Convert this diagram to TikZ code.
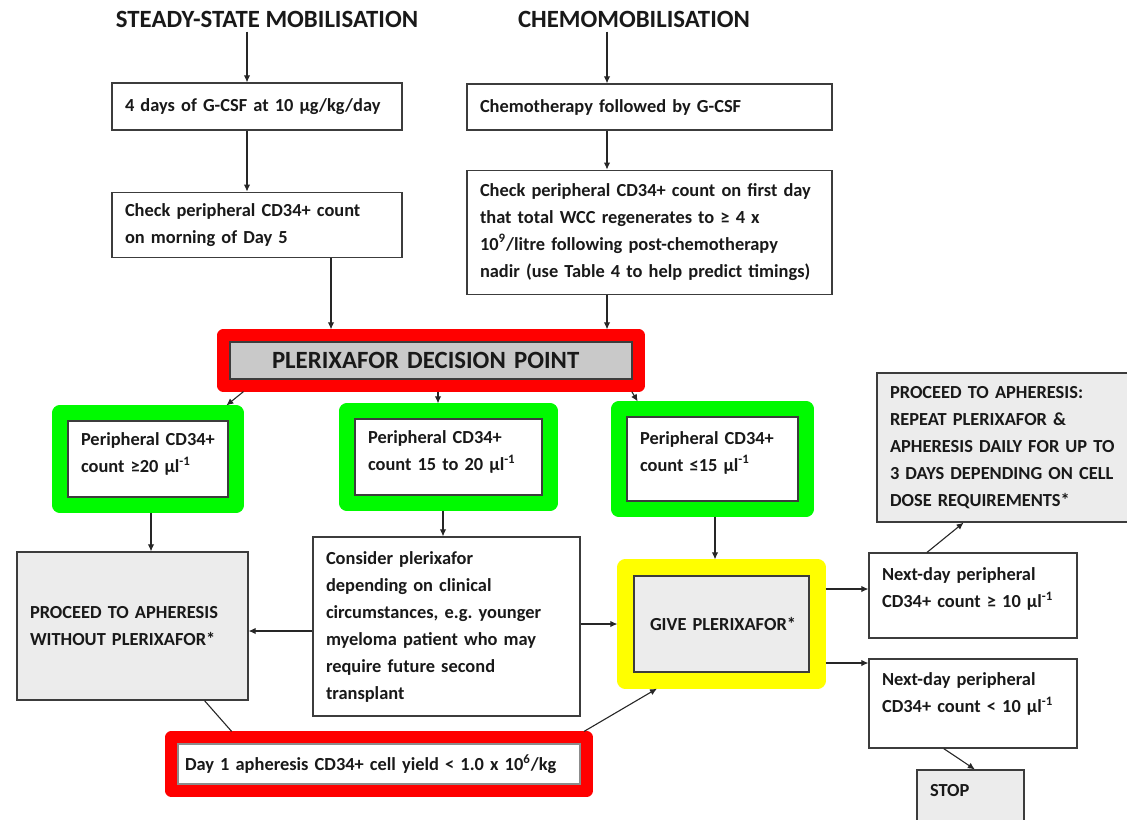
\documentclass[tikz,border=0pt]{standalone}
\usepackage{fontspec}
\setmainfont{Carlito}
\definecolor{boxline}{RGB}{60,60,60}
\definecolor{hlred}{RGB}{255,0,0}
\definecolor{hlgreen}{RGB}{0,250,0}
\definecolor{hlyellow}{RGB}{255,255,0}
\definecolor{boxgrey}{RGB}{236,236,236}
\definecolor{dpgrey}{RGB}{201,201,201}
\usetikzlibrary{arrows.meta,positioning,calc,fit}
\newcommand{\bodyfont}{\fontsize{9.2}{13.5}\selectfont\bfseries}
\newcommand{\headfont}{\fontsize{12.4}{14}\selectfont\bfseries}
\tikzset{
  stepbox/.style={rectangle,draw=boxline,line width=0.6pt,fill=#1,
    align=left,inner xsep=6.5pt,inner ysep=0pt,font=\bodyfont,text=black!90},
  stepbox/.default=white,
  redframe/.style={rectangle,draw=hlred,line width=6pt,line join=round,inner sep=3pt},
  greenframe/.style={rectangle,draw=hlgreen,line width=7.5pt,line join=round,inner sep=3.75pt},
  yellowframe/.style={rectangle,draw=hlyellow,line width=8pt,line join=round,inner sep=4pt},
  arr/.style={-{Latex[length=3.5pt,width=3.2pt]},line width=0.55pt,draw=black!85},
}

\begin{document}
\begin{tikzpicture}[x=0.5pt,y=-0.5pt,
  head/.style={font=\headfont,text=black!90,inner sep=2pt},
  conn/.style={line width=0.55pt,draw=black!85},
]
  \useasboundingbox (0,0) rectangle (1127,819);

  % titles
  \node[head] (t1) at (267,19) {STEADY-STATE MOBILISATION};
  \node[head] (t2) at (634,19) {CHEMOMOBILISATION};

  % left column
  \node[stepbox,text width=132pt,minimum height=23.5pt] (b1) at (257,106.5)
    {4 days of G-CSF at 10 µg/kg/day};
  \node[stepbox,text width=132pt,minimum height=32.5pt,below=30.5pt of b1] (b2)
    {Check peripheral CD34+ count\\on morning of Day 5};

  % right column
  \node[stepbox,text width=169.5pt,minimum height=23pt] (b3) at (649.5,107)
    {Chemotherapy followed by G-CSF};
  \node[stepbox,text width=169.5pt,minimum height=62pt,below=19.5pt of b3] (b4)
    {Check peripheral CD34+ count on first day\\
     that total WCC regenerates to ≥ 4 x\\
     10\textsuperscript{9}/litre following post-chemotherapy\\
     nadir (use Table 4 to help predict timings)};

  % decision point
  \node[stepbox=dpgrey,font=\headfont,inner xsep=21pt,text width=159pt,
    minimum height=18.5pt] (dp) at (431,360.5) {PLERIXAFOR DECISION POINT};

  % counts
  \node[stepbox,text width=67pt,minimum height=38pt] (g1) at (148,459)
    {Peripheral CD34+\\count ≥20 µl\textsuperscript{-1}\\[-7.5pt]\mbox{}};
  \node[stepbox,text width=80.5pt,minimum height=38pt] (g2) at (448.5,457)
    {Peripheral CD34+\\count 15 to 20 µl\textsuperscript{-1}\\[-7.5pt]\mbox{}};
  \node[stepbox,text width=72.5pt,minimum height=42pt] (g3) at (712.5,459)
    {Peripheral CD34+\\count ≤15 µl\textsuperscript{-1}\\[-6pt]\mbox{}};

  % outcomes
  \node[stepbox=boxgrey,text width=102.5pt,minimum height=74pt] (prc) at (132.5,626)
    {PROCEED TO APHERESIS\\WITHOUT PLERIXAFOR*};
  \node[stepbox,text width=120.5pt,minimum height=89.5pt] (cons) at (446.5,626.5)
    {Consider plerixafor\\depending on clinical\\circumstances, e.g.\ younger\\
     myeloma patient who may\\require future second\\transplant};
  \node[stepbox=boxgrey,text width=74.5pt,minimum height=48pt] (give)
    at (721.5,624) {\mbox{\hspace*{1.5pt}GIVE PLERIXAFOR*}};
  \node[stepbox,text width=91pt,minimum height=42.5pt] (nd1) at (973,595.5)
    {Next-day peripheral\\CD34+ count ≥ 10 µl\textsuperscript{-1}\\[-6pt]\mbox{}};
  \node[stepbox,text width=91pt,minimum height=44.5pt] (nd2) at (973,703.5)
    {Next-day peripheral\\CD34+ count < 10 µl\textsuperscript{-1}\\[-3pt]\mbox{}};
  \node[stepbox=boxgrey,text width=118.5pt,minimum height=74.5pt] (rp) at (1008.5,447.5)
    {PROCEED TO APHERESIS:\\REPEAT PLERIXAFOR \&\\APHERESIS DAILY FOR UP TO\\
     3 DAYS DEPENDING ON CELL\\DOSE REQUIREMENTS*};
  \node[stepbox=boxgrey,text width=40.5pt,minimum height=30pt] (stop) at (970.5,800)
    {STOP\\[-4pt]\mbox{}};
  \node[stepbox,draw=black!45,inner xsep=3.5pt,text width=194pt,minimum height=20pt]
    (day1) at (379,764)
    {Day 1 apheresis CD34+ cell yield < 1.0 x 10\textsuperscript{6}/kg};

  % highlight frames
  \node[redframe,fit=(dp)] (dpf) {};
  \node[greenframe,fit=(g1)] (g1f) {};
  \node[greenframe,fit=(g2)] (g2f) {};
  \node[greenframe,fit=(g3)] (g3f) {};
  \node[yellowframe,fit=(give)] (givef) {};
  \node[redframe,fit=(day1)] (day1f) {};

  \coordinate (cA) at (247,0);
  \coordinate (cB) at (331,0);
  \coordinate (cC) at (607,0);
  \coordinate (cD) at (438,0);
  \coordinate (cE) at (151,0);
  \coordinate (cF) at (443,0);
  \coordinate (cG) at (715,0);
  \coordinate (rA) at (0,631);
  \coordinate (rB) at (0,624);
  \coordinate (rC) at (0,589);
  \coordinate (rD) at (0,663);

  \draw[arr] (t1.south -| cA) -- (b1.north -| cA);
  \draw[arr] (b1.south -| cA) -- (b2.north -| cA);
  \draw[arr] (b2.south -| cB) -- (dpf.north -| cB);
  \draw[arr] (t2.south -| cC) -- (b3.north -| cC);
  \draw[arr] (b3.south -| cC) -- (b4.north -| cC);
  \draw[arr] (b4.south -| cC) -- (dpf.north -| cC);

  \draw[arr] ($(dpf.south west)!0.061!(dpf.south east)$)
    -- ($(g1f.north west)!0.91!(g1f.north east)$);
  \draw[arr] (dpf.south -| cD) -- (g2f.north -| cD);
  \draw[arr] ($(dpf.south west)!0.97!(dpf.south east)$)
    -- ($(g3f.north west)!0.13!(g3f.north east)$);

  \draw[arr] (g1f.south -| cE) -- (prc.north -| cE);
  \draw[arr] (g2f.south -| cF) -- (cons.north -| cF);
  \draw[arr] (g3f.south -| cG) -- (givef.north -| cG);

  \draw[arr] (cons.west |- rA) -- (prc.east |- rA);
  \draw[arr] (cons.east |- rB) -- (givef.west |- rB);
  \draw[arr] (givef.east |- rC) -- (nd1.west |- rC);
  \draw[arr] (givef.east |- rD) -- (nd2.west |- rD);
  \draw[arr] ($(nd1.north west)!0.28!(nd1.north east)$)
    -- ($(rp.south west)!0.33!(rp.south east)$);
  \draw[arr] ($(nd2.south west)!0.36!(nd2.south east)$)
    -- ($(stop.north west)!0.54!(stop.north east)$);

  \draw[conn] ($(prc.south west)!0.81!(prc.south east)$)
    -- ($(day1f.north west)!0.155!(day1f.north east)$);
  \draw[arr] ($(day1f.north west)!0.98!(day1f.north east)$)
    -- ($(givef.south west)!0.19!(givef.south east)$);
\end{tikzpicture}
\end{document}
